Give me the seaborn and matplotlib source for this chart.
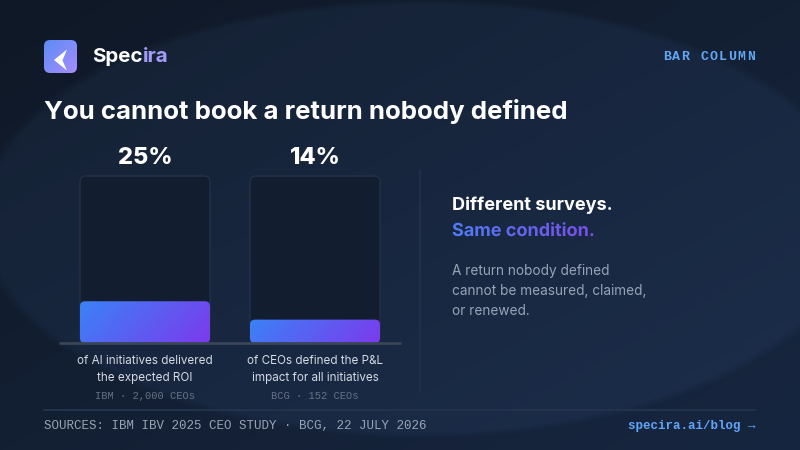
import numpy as np
import matplotlib
matplotlib.use("Agg")
import matplotlib.pyplot as plt
import matplotlib.transforms as mtransforms
from matplotlib.patches import FancyBboxPatch, Polygon, PathPatch
from matplotlib.textpath import TextPath
from matplotlib.font_manager import FontProperties
from matplotlib.colors import to_rgb
import seaborn as sns

# chart data
categories = ["IBM", "BCG"]
values = [25, 14]
value_labels = ["25%", "14%"]
captions = [["of AI initiatives delivered", "the expected ROI"],
            ["of CEOs defined the P&L", "impact for all initiatives"]]
sources = ["IBM · 2,000 CEOs", "BCG · 152 CEOs"]

title = "You cannot book a return nobody defined"
side_head = "Different surveys."
side_accent = "Same condition."
side_body = ["A return nobody defined", "cannot be measured, claimed,", "or renewed."]
footer_left = "SOURCES: IBM IBV 2025 CEO STUDY · BCG, 22 JULY 2026"
footer_right = "specira.ai/blog →"
tag = "BAR COLUMN"

W, H = 800, 450
BLUE, PURPLE = "#3b82f6", "#7c3aed"
MONO = ["Liberation Mono", "DejaVu Sans Mono"]

sns.set_theme(style="dark")
plt.rcParams['font.family'] = ['Inter', 'DejaVu Sans']


def gradient(w, h, c1, c2, diag=True):
    yy, xx = np.mgrid[0:h, 0:w]
    if diag:
        t = (xx + yy) / float(w + h - 2)
    else:
        t = xx / float(max(w - 1, 1))
    a, b = np.array(to_rgb(c1)), np.array(to_rgb(c2))
    return a + (b - a) * t[..., None]


fig = plt.figure(figsize=(8, 4.5), dpi=100)

# full-figure overlay in pixel coords
ov = fig.add_axes([0, 0, 1, 1])
ov.axis('off')
yy, xx = np.mgrid[0:H, 0:W]
tl = (xx / W + yy / H) / 2.0
c0, c1 = np.array(to_rgb('#0f1826')), np.array(to_rgb('#172640'))
bg = c0 + (c1 - c0) * tl[..., None]
d = ((xx - 420) / 445.0) ** 2 + ((yy - 218) / 220.0) ** 2
inside = np.clip((1.0 - d) / 0.06, 0, 1)
bg = bg + inside[..., None] * np.array([0.02, 0.032, 0.048])
ov.imshow(np.clip(bg, 0, 1), extent=(0, W, H, 0), aspect='auto', zorder=0)

# logo
logo = FancyBboxPatch((44, 40), 33, 33, boxstyle="round,pad=0,rounding_size=6",
                      transform=ov.transData, facecolor='none', edgecolor='none')
ov.add_patch(logo)
li = ov.imshow(gradient(33, 33, "#5b8df7", "#a78bfa"), extent=(44, 77, 73, 40),
               aspect='auto', zorder=2)
li.set_clip_path(logo)
ov.add_patch(Polygon([(67, 49.5), (54, 60), (67, 70.5), (62.5, 60.5)],
                     closed=True, facecolor='white', edgecolor='none', zorder=3))
ov.set_xlim(0, W)
ov.set_ylim(H, 0)

spec = ov.text(92, 57, "Spec", color='white', fontsize=14.8, fontweight='bold',
               va='center', ha='left')
fig.canvas.draw()
bb = spec.get_window_extent().transformed(ov.transData.inverted())
ov.text(bb.x1, 57, "ira", color='#a39cf6', fontsize=14.8, fontweight='bold',
        va='center', ha='left')

# letter-spaced tag
step = 9.35
for k, ch in enumerate(tag):
    ov.text(755 - step * (len(tag) - 1 - k), 57, ch, color='#62a6f6', fontsize=9.5,
            family=MONO, fontweight='bold', ha='right', va='center')

ov.text(44, 112, title, color='white', fontsize=18.6, fontweight='bold',
        ha='left', va='center')

# divider + footer rule
ov.plot([420, 420], [170, 392], color='#22324c', lw=1.2)
ov.plot([44, 755], [410, 410], color='#22324b', lw=1.5)
ov.text(44, 426, footer_left, color='#9aa4b5', fontsize=9, family=MONO,
        ha='left', va='center')
ov.text(755, 426, footer_right, color='#60a5fa', fontsize=9, family=MONO,
        fontweight='bold', ha='right', va='center')

# right panel
ov.text(452, 205, side_head, color='white', fontsize=13, fontweight='bold',
        ha='left', va='center')
# gradient-filled accent line
fs_px = 13 * 100 / 72.0
tp = TextPath((0, 0), side_accent, size=fs_px,
              prop=FontProperties(family='Inter', weight='bold'))
ext = tp.get_extents()
tr = mtransforms.Affine2D().scale(1, -1).translate(452, 236) + ov.transData
acc = PathPatch(tp, transform=tr, facecolor='none', edgecolor='none')
ov.add_patch(acc)
gw = int(ext.width) + 4
ai = ov.imshow(gradient(gw, 24, "#4f7cf5", "#7a4ce6", diag=False),
               extent=(452, 452 + gw, 244, 220), aspect='auto', zorder=3)
ai.set_clip_path(acc)
ov.set_xlim(0, W)
ov.set_ylim(H, 0)

for i, line in enumerate(side_body):
    ov.text(452, 271 + 20 * i, line, color='#98a3b5', fontsize=9.8,
            ha='left', va='center')

# bar chart axes: x 60-400 px, y 176-343 px
ax = fig.add_axes([60 / W, 1 - 343 / H, 340 / W, 167 / H])
ax.patch.set_alpha(0)
sns.barplot(x=categories, y=values, width=130 / 170, color=BLUE, ax=ax)
ax.set_xlim(-0.5, 1.5)
ax.set_ylim(0, 100)
ax.axis('off')

xpx, ypx = 340 / 2.0, 167 / 100.0
asp = xpx / ypx
mix = mtransforms.blended_transform_factory(ax.transData, ov.transData)

for i, p in enumerate(list(ax.patches)):
    x0, w, h = p.get_x(), p.get_width(), p.get_height()
    p.set_visible(False)
    track = FancyBboxPatch((x0, 0), w, 100, boxstyle="round,pad=0,rounding_size=%f" % (6 / xpx),
                           mutation_aspect=asp, facecolor='#131d30', edgecolor='#22304b',
                           lw=1, zorder=1, clip_on=False)
    ax.add_patch(track)
    bar = FancyBboxPatch((x0, 0), w, h, boxstyle="round,pad=0,rounding_size=%f" % (5 / xpx),
                         mutation_aspect=asp, facecolor='none', edgecolor='none',
                         zorder=2, clip_on=False)
    ax.add_patch(bar)
    im = ax.imshow(gradient(int(w * xpx), max(int(h * ypx), 2), BLUE, PURPLE),
                   extent=(x0, x0 + w, 0, h), aspect='auto', zorder=2)
    im.set_clip_path(bar)
    cx = x0 + w / 2
    ax.text(cx, 158, value_labels[i], transform=mix, color='white', fontsize=17,
            fontweight='heavy', ha='center', va='center')
    for j, line in enumerate(captions[i]):
        ax.text(cx, 361 + 17 * j, line, transform=mix, color='#d5dae3', fontsize=8.4,
                ha='center', va='center')
    ax.text(cx, 396, sources[i], transform=mix, color='#677286', fontsize=7.5,
            family=MONO, ha='center', va='center')

ax.set_xlim(-0.5, 1.5)
ax.set_ylim(0, 100)
ax.axhline(0, color='#3a4557', lw=2, zorder=3, clip_on=False)

fig.savefig("out.png", dpi=100)
